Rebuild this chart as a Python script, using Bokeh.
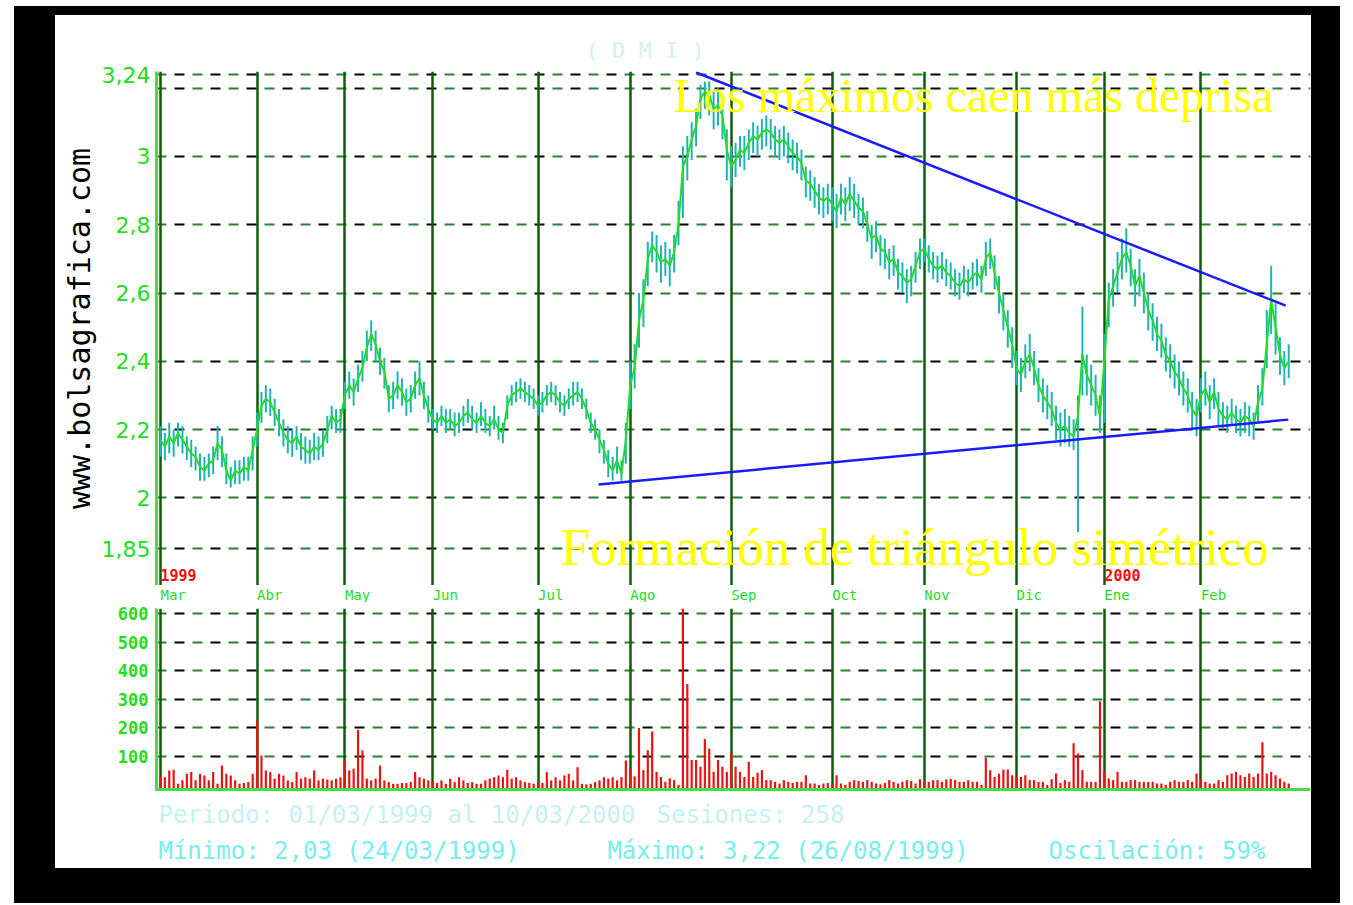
from bokeh.plotting import figure
from bokeh.layouts import row, column
from bokeh.models import Range1d, FixedTicker, Grid, Label, Span, Spacer
from bokeh.embed import file_html
from bokeh.resources import INLINE

# ---------------- data ----------------
months = ["Mar", "Abr", "May", "Jun", "Jul", "Ago", "Sep", "Oct", "Nov", "Dic", "Ene", "Feb"]
month_start = [0, 22, 42, 62, 86, 107, 130, 153, 174, 195, 215, 237]
years = ["1999", "2000"]
year_start = [0, 215]

price_ticks = [1.85, 2.0, 2.2, 2.4, 2.6, 2.8, 3.0, 3.2, 3.24]
price_labels = ["1,85", "2", "2,2", "2,4", "2,6", "2,8", "3", "", "3,24"]
vol_ticks = [100, 200, 300, 400, 500, 600]

close_mar = [2.17, 2.15, 2.18, 2.16, 2.19, 2.17, 2.15, 2.13, 2.12, 2.09, 2.08, 2.10, 2.11, 2.16, 2.14, 2.08, 2.05, 2.08, 2.07, 2.09, 2.08, 2.14]
high_mar = [2.21, 2.19, 2.22, 2.20, 2.22, 2.21, 2.18, 2.17, 2.15, 2.13, 2.12, 2.13, 2.15, 2.21, 2.18, 2.13, 2.09, 2.11, 2.11, 2.12, 2.12, 2.18]
low_mar = [2.12, 2.11, 2.13, 2.12, 2.15, 2.13, 2.11, 2.09, 2.08, 2.05, 2.05, 2.06, 2.07, 2.11, 2.09, 2.04, 2.03, 2.04, 2.04, 2.05, 2.05, 2.08]

close_abr = [2.20, 2.27, 2.29, 2.28, 2.25, 2.22, 2.19, 2.17, 2.16, 2.18, 2.15, 2.14, 2.13, 2.15, 2.14, 2.16, 2.20, 2.24, 2.22, 2.23]
high_abr = [2.25, 2.31, 2.33, 2.32, 2.29, 2.26, 2.23, 2.21, 2.20, 2.21, 2.19, 2.18, 2.17, 2.19, 2.18, 2.20, 2.24, 2.27, 2.26, 2.26]
low_abr = [2.15, 2.22, 2.25, 2.24, 2.21, 2.18, 2.15, 2.13, 2.12, 2.14, 2.11, 2.10, 2.10, 2.11, 2.11, 2.12, 2.16, 2.20, 2.19, 2.19]

close_may = [2.30, 2.33, 2.31, 2.35, 2.38, 2.44, 2.48, 2.45, 2.40, 2.37, 2.29, 2.30, 2.33, 2.31, 2.28, 2.29, 2.33, 2.35, 2.30, 2.26]
high_may = [2.34, 2.37, 2.35, 2.39, 2.43, 2.49, 2.52, 2.49, 2.44, 2.41, 2.33, 2.34, 2.37, 2.35, 2.32, 2.33, 2.37, 2.40, 2.34, 2.30]
low_may = [2.26, 2.29, 2.27, 2.31, 2.34, 2.40, 2.43, 2.40, 2.36, 2.32, 2.25, 2.26, 2.29, 2.27, 2.24, 2.25, 2.29, 2.30, 2.26, 2.22]

close_jun = [2.23, 2.22, 2.24, 2.22, 2.23, 2.21, 2.22, 2.24, 2.25, 2.23, 2.22, 2.24, 2.22, 2.21, 2.23, 2.20, 2.19, 2.27, 2.30, 2.31, 2.32, 2.31, 2.30, 2.29]
high_jun = [2.26, 2.25, 2.27, 2.26, 2.26, 2.25, 2.25, 2.27, 2.29, 2.27, 2.25, 2.28, 2.26, 2.24, 2.27, 2.24, 2.22, 2.30, 2.33, 2.34, 2.35, 2.34, 2.33, 2.32]
low_jun = [2.20, 2.19, 2.21, 2.19, 2.20, 2.18, 2.19, 2.21, 2.22, 2.20, 2.19, 2.21, 2.19, 2.18, 2.20, 2.17, 2.16, 2.23, 2.27, 2.28, 2.29, 2.28, 2.27, 2.26]

close_jul = [2.27, 2.28, 2.30, 2.31, 2.30, 2.28, 2.27, 2.29, 2.30, 2.31, 2.29, 2.26, 2.22, 2.20, 2.17, 2.14, 2.10, 2.08, 2.11, 2.07, 2.17]
high_jul = [2.30, 2.31, 2.33, 2.34, 2.33, 2.31, 2.30, 2.32, 2.34, 2.34, 2.32, 2.29, 2.25, 2.23, 2.20, 2.17, 2.14, 2.12, 2.15, 2.11, 2.22]
low_jul = [2.24, 2.25, 2.27, 2.28, 2.27, 2.25, 2.24, 2.26, 2.27, 2.28, 2.26, 2.23, 2.19, 2.17, 2.13, 2.10, 2.06, 2.05, 2.07, 2.05, 2.10]

close_ago = [2.33, 2.38, 2.52, 2.58, 2.70, 2.74, 2.72, 2.69, 2.70, 2.68, 2.72, 2.80, 2.97, 3.00, 3.05, 3.09, 3.17, 3.19, 3.18, 3.14, 3.15, 3.12, 3.02]
high_ago = [2.40, 2.45, 2.60, 2.64, 2.75, 2.78, 2.77, 2.74, 2.75, 2.73, 2.77, 2.87, 3.03, 3.06, 3.10, 3.14, 3.21, 3.22, 3.22, 3.19, 3.20, 3.17, 3.08]
low_ago = [2.26, 2.32, 2.44, 2.50, 2.62, 2.69, 2.66, 2.63, 2.65, 2.62, 2.66, 2.74, 2.82, 2.93, 2.99, 3.03, 3.11, 3.14, 3.12, 3.08, 3.09, 3.05, 2.93]

close_sep = [2.97, 2.99, 3.02, 3.01, 3.04, 3.06, 3.05, 3.07, 3.08, 3.07, 3.05, 3.04, 3.05, 3.03, 3.01, 3.00, 2.98, 2.93, 2.92, 2.90, 2.88, 2.87, 2.88]
high_sep = [3.03, 3.04, 3.06, 3.06, 3.08, 3.10, 3.09, 3.11, 3.12, 3.11, 3.09, 3.08, 3.09, 3.07, 3.05, 3.04, 3.02, 2.97, 2.96, 2.94, 2.92, 2.91, 2.92]
low_sep = [2.91, 2.94, 2.97, 2.96, 2.99, 3.01, 3.00, 3.02, 3.03, 3.02, 3.00, 2.99, 3.00, 2.98, 2.96, 2.95, 2.93, 2.88, 2.87, 2.85, 2.83, 2.82, 2.83]

close_oct = [2.86, 2.84, 2.88, 2.86, 2.89, 2.87, 2.85, 2.84, 2.80, 2.76, 2.77, 2.73, 2.72, 2.69, 2.70, 2.66, 2.65, 2.63, 2.64, 2.68, 2.72]
high_oct = [2.91, 2.89, 2.92, 2.91, 2.94, 2.92, 2.89, 2.88, 2.84, 2.80, 2.81, 2.77, 2.76, 2.73, 2.74, 2.70, 2.69, 2.67, 2.68, 2.72, 2.76]
low_oct = [2.81, 2.79, 2.83, 2.81, 2.84, 2.82, 2.80, 2.79, 2.75, 2.70, 2.72, 2.68, 2.67, 2.64, 2.65, 2.61, 2.60, 2.57, 2.59, 2.63, 2.67]

close_nov = [2.73, 2.70, 2.68, 2.67, 2.68, 2.66, 2.65, 2.63, 2.62, 2.64, 2.63, 2.65, 2.66, 2.64, 2.70, 2.72, 2.66, 2.60, 2.55, 2.50, 2.45]
high_nov = [2.76, 2.74, 2.72, 2.71, 2.72, 2.70, 2.69, 2.67, 2.66, 2.68, 2.67, 2.69, 2.70, 2.68, 2.75, 2.76, 2.71, 2.65, 2.60, 2.55, 2.50]
low_nov = [2.69, 2.66, 2.64, 2.63, 2.64, 2.62, 2.61, 2.59, 2.58, 2.60, 2.59, 2.61, 2.62, 2.60, 2.65, 2.67, 2.61, 2.54, 2.49, 2.44, 2.38]

close_dic = [2.38, 2.36, 2.40, 2.42, 2.38, 2.33, 2.30, 2.28, 2.26, 2.22, 2.20, 2.21, 2.19, 2.18, 2.24, 2.42, 2.36, 2.33, 2.30, 2.24]
high_dic = [2.43, 2.41, 2.45, 2.48, 2.43, 2.38, 2.35, 2.33, 2.31, 2.27, 2.25, 2.26, 2.24, 2.23, 2.30, 2.56, 2.42, 2.39, 2.36, 2.30]
low_dic = [2.33, 2.31, 2.35, 2.37, 2.33, 2.28, 2.25, 2.23, 2.21, 2.17, 2.15, 2.16, 2.15, 2.14, 1.90, 2.30, 2.30, 2.27, 2.24, 2.19]

close_ene = [2.40, 2.58, 2.62, 2.66, 2.70, 2.72, 2.68, 2.62, 2.65, 2.60, 2.55, 2.52, 2.48, 2.46, 2.42, 2.40, 2.37, 2.35, 2.32, 2.30, 2.26, 2.24]
high_ene = [2.48, 2.63, 2.67, 2.72, 2.76, 2.79, 2.73, 2.67, 2.70, 2.66, 2.60, 2.57, 2.53, 2.51, 2.47, 2.45, 2.42, 2.40, 2.37, 2.35, 2.31, 2.29]
low_ene = [2.22, 2.50, 2.56, 2.60, 2.64, 2.66, 2.62, 2.56, 2.59, 2.54, 2.49, 2.46, 2.43, 2.41, 2.37, 2.35, 2.32, 2.30, 2.27, 2.25, 2.20, 2.18]

close_feb = [2.30, 2.32, 2.28, 2.31, 2.26, 2.24, 2.23, 2.25, 2.23, 2.22, 2.24, 2.23, 2.21, 2.28, 2.32, 2.45, 2.58, 2.50, 2.42, 2.38, 2.40]
high_feb = [2.35, 2.37, 2.33, 2.35, 2.31, 2.28, 2.27, 2.29, 2.27, 2.26, 2.28, 2.27, 2.25, 2.33, 2.38, 2.55, 2.68, 2.57, 2.47, 2.43, 2.45]
low_feb = [2.25, 2.27, 2.23, 2.26, 2.21, 2.20, 2.19, 2.21, 2.19, 2.18, 2.19, 2.18, 2.17, 2.22, 2.27, 2.38, 2.48, 2.42, 2.36, 2.33, 2.35]

vol_mar = [33, 27, 51, 53, 4, 16, 39, 45, 16, 39, 33, 16, 45, 4, 68, 39, 33, 16, 4, 7, 10, 39]
vol_abr = [226, 103, 51, 45, 22, 39, 33, 16, 10, 45, 22, 27, 22, 51, 16, 22, 19, 16, 22, 27]
vol_may = [86, 51, 57, 193, 121, 22, 16, 22, 68, 16, 10, 4, 4, 7, 7, 10, 45, 27, 22, 16]
vol_jun = [10, 7, 16, 4, 22, 10, 27, 16, 7, 10, 4, 4, 16, 22, 27, 33, 27, 53, 22, 27, 16, 10, 7, 4]
vol_jul = [10, 7, 45, 16, 27, 16, 33, 39, 16, 62, 4, 2, 4, 10, 16, 27, 22, 27, 16, 27, 86]
vol_ago = [57, 30, 200, 52, 122, 187, 46, 28, 11, 23, 17, 0, 620, 354, 87, 87, 64, 161, 128, 46, 87, 64, 46]
vol_sep = [110, 64, 46, 28, 81, 28, 43, 52, 17, 17, 11, 5, 17, 11, 7, 11, 11, 34, 5, 5, 0, 5, 7]
vol_oct = [2, 34, 5, 0, 11, 17, 14, 11, 17, 11, 5, 2, 7, 17, 11, 5, 11, 17, 14, 5, 20]
vol_nov = [11, 11, 17, 17, 11, 19, 21, 17, 11, 11, 17, 11, 11, 0, 95, 52, 28, 40, 54, 54, 34]
vol_dic = [28, 28, 34, 17, 17, 11, 11, 0, 20, 40, 7, 17, 11, 146, 110, 52, 11, 11, 11, 293]
vol_ene = [46, 23, 17, 46, 11, 11, 17, 17, 11, 11, 11, 11, 5, 5, 0, 11, 17, 11, 11, 17, 11, 40]
vol_feb = [20, 11, 5, 5, 17, 11, 34, 40, 46, 34, 28, 40, 28, 40, 150, 40, 46, 34, 23, 11, 5]

# trend lines (session index, price)
trend_high_x = [122.0, 256.3]
trend_high_y = [3.246, 2.563]
trend_low_x = [99.8, 256.9]
trend_low_y = [2.039, 2.229]

close = (close_mar + close_abr + close_may + close_jun + close_jul + close_ago +
         close_sep + close_oct + close_nov + close_dic + close_ene + close_feb)
high = (high_mar + high_abr + high_may + high_jun + high_jul + high_ago +
        high_sep + high_oct + high_nov + high_dic + high_ene + high_feb)
low = (low_mar + low_abr + low_may + low_jun + low_jul + low_ago +
       low_sep + low_oct + low_nov + low_dic + low_ene + low_feb)
volume = (vol_mar + vol_abr + vol_may + vol_jun + vol_jul + vol_ago +
          vol_sep + vol_oct + vol_nov + vol_dic + vol_ene + vol_feb)
assert len(close) == len(high) == len(low) == len(volume) == 258
sessions = list(range(len(close)))

# ---------------- style ----------------
GREEN = "#22dd22"
DKGREEN = "#2f7f2f"
MONTHLINE = "#0c5c0c"
VOL_FLOOR = -16
PANEL_W = 1256
BLACK = {"background-color": "black"}
WHITE = {"background-color": "white"}

xr = Range1d(-0.91, 261.96)


def base_fig(height, y_range, top=0, bottom=0):
    f = figure(width=PANEL_W, height=height, x_range=xr, y_range=y_range,
               output_backend="svg", toolbar_location=None,
               min_border_left=101, min_border_right=1,
               min_border_top=top, min_border_bottom=bottom,
               border_fill_color="white", background_fill_color="white",
               outline_line_color=None, styles=WHITE)
    f.grid.visible = False
    return f


def strip_fig(height):
    f = base_fig(height, Range1d(0, 1))
    f.xaxis.visible = False
    f.yaxis.visible = False
    return f


def add_grids(fig, yticks):
    for color, offset in ((DKGREEN, 0), ("black", 18)):
        fig.add_layout(Grid(dimension=1, ticker=FixedTicker(ticks=yticks),
                            grid_line_color=color, grid_line_width=2,
                            grid_line_dash="10 26", grid_line_dash_offset=offset))
    fig.add_layout(Grid(dimension=0, ticker=FixedTicker(ticks=month_start),
                        grid_line_color=MONTHLINE, grid_line_width=2.5))


def style_yaxis(ax):
    ax.major_tick_out = 0
    ax.major_tick_in = 0
    ax.minor_tick_out = 0
    ax.minor_tick_in = 0
    ax.major_tick_line_color = None
    ax.minor_tick_line_color = None
    ax.axis_line_color = "#44dd44"
    ax.axis_line_width = 3


# ---------------- header (title) ----------------
ph = strip_fig(47)
ph.add_layout(Label(x=96.8, y=0.26, text="( D M I )", text_font="DejaVu Sans Mono",
                    text_font_size="22px", text_color="#d2f0f0",
                    text_baseline="middle", text_align="left"))

# ---------------- price panel ----------------
pp = base_fig(523, Range1d(1.743, 3.249), top=9, bottom=0)
add_grids(pp, price_ticks)
pp.xaxis.visible = False

ya = pp.yaxis[0]
ya.ticker = FixedTicker(ticks=price_ticks)
ya.major_label_overrides = dict(zip(price_ticks, price_labels))
ya.major_label_text_font = "DejaVu Sans"
ya.major_label_text_font_size = "22px"
ya.major_label_text_color = GREEN
ya.major_label_standoff = 6
style_yaxis(ya)
ya.axis_label = "www.bolsagrafica.com"
ya.axis_label_text_font = "DejaVu Sans Mono"
ya.axis_label_text_font_size = "30px"
ya.axis_label_text_font_style = "normal"
ya.axis_label_text_color = "black"
ya.axis_label_standoff = 2

pp.segment(x0=sessions, y0=low, x1=sessions, y1=high, line_color="#1fb4b4", line_width=2)
pp.line(sessions, close, line_color=GREEN, line_width=2)
pp.line(trend_high_x, trend_high_y, line_color="#1a1aff", line_width=2.5)
pp.line(trend_low_x, trend_low_y, line_color="#1a1aff", line_width=2.5)

for yr, xs in zip(years, year_start):
    pp.add_layout(Label(x=xs, y=1.775, text=yr, text_font="DejaVu Sans Mono",
                        text_font_size="15px", text_font_style="bold", text_color="#ee1111",
                        text_baseline="middle", text_align="left"))

pp.add_layout(Label(x=116.9, y=3.1787, text="Los máximos caen más deprisa",
                    text_font="Liberation Serif", text_font_size="48px", text_color="#ffff00",
                    text_baseline="middle", text_align="left"))
pp.add_layout(Label(x=91.1, y=1.8544, text="Formación de triángulo simétrico",
                    text_font="Liberation Serif", text_font_size="53px", text_color="#ffff00",
                    text_baseline="middle", text_align="left"))

# ---------------- month labels strip ----------------
pm = strip_fig(17)
for m, xs in zip(months, month_start):
    pm.add_layout(Label(x=xs, y=0.45, text=m, text_font="DejaVu Sans Mono",
                        text_font_size="14px", text_color=GREEN,
                        text_baseline="middle", text_align="left"))

# ---------------- volume panel ----------------
pv = base_fig(189, Range1d(-23.0, 618.4), top=6, bottom=0)
add_grids(pv, vol_ticks)
pv.xaxis.visible = False

va = pv.yaxis[0]
va.ticker = FixedTicker(ticks=vol_ticks)
va.major_label_text_font = "DejaVu Sans Mono"
va.major_label_text_font_size = "17px"
va.major_label_text_font_style = "bold"
va.major_label_text_color = GREEN
va.major_label_standoff = 8
style_yaxis(va)

pv.vbar(x=sessions, top=volume, bottom=VOL_FLOOR, width=0.5, fill_color="#ee1111", line_color=None)
pv.add_layout(Span(location=VOL_FLOOR, dimension="width", line_color="#44dd44", line_width=3))

# ---------------- footer ----------------
pf = strip_fig(77)
footer1 = [(-0.46, "Periodo: 01/03/1999 al 10/03/2000"), (113.0, "Sesiones: 258")]
footer2 = [(-0.46, "Mínimo: 2,03 (24/03/1999)"), (101.8, "Máximo: 3,22 (26/08/1999)"),
           (202.3, "Oscilación: 59%")]
for xs, t in footer1:
    pf.add_layout(Label(x=xs, y=0.69, text=t, text_font="DejaVu Sans Mono", text_font_size="24px",
                        text_color="#c4f2f2", text_baseline="middle", text_align="left"))
for xs, t in footer2:
    pf.add_layout(Label(x=xs, y=0.23, text=t, text_font="DejaVu Sans Mono", text_font_size="24px",
                        text_color="#77eeee", text_baseline="middle", text_align="left"))

# ---------------- page frame ----------------
panel = column(Spacer(width=PANEL_W, height=9, styles=BLACK), ph, pp, pm, pv, pf,
               Spacer(width=PANEL_W, height=35, styles=BLACK), styles=WHITE)
framed = row(Spacer(width=41, height=897, styles=BLACK), panel,
             Spacer(width=29, height=897, styles=BLACK), styles=BLACK)
layout = column(Spacer(width=1340, height=6), row(Spacer(width=14, height=897), framed))

open("out.html", "w").write(file_html(layout, INLINE))
